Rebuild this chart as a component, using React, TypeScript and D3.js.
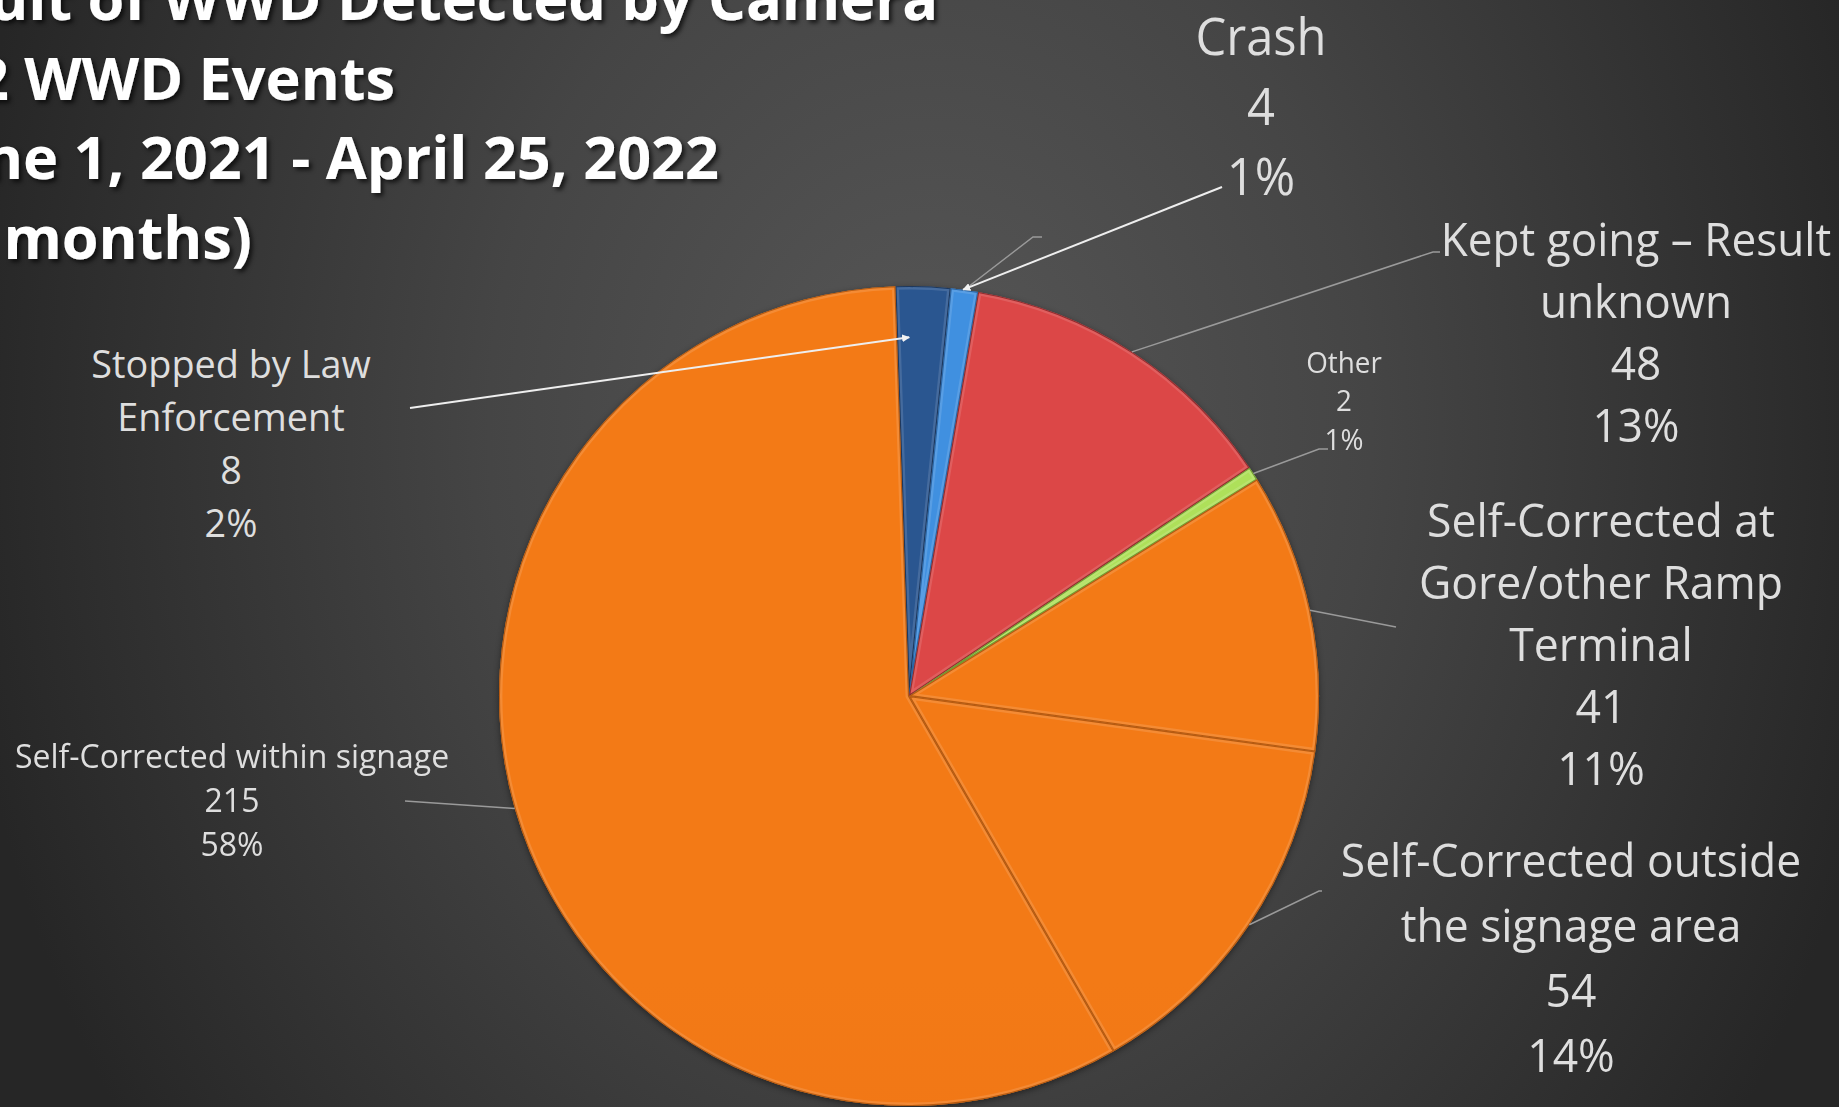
import React from "react";
import * as d3 from "d3";

// chart data
const categories = [
  "Stopped by Law Enforcement",
  "Crash",
  "Kept going – Result unknown",
  "Other",
  "Self-Corrected at Gore/other Ramp Terminal",
  "Self-Corrected outside the signage area",
  "Self-Corrected within signage",
];
const counts = [8, 4, 48, 2, 41, 54, 215];
const percentLabels = ["2%", "1%", "13%", "1%", "11%", "14%", "58%"];
const nameLines = [
  ["Stopped by Law", "Enforcement"],
  ["Crash"],
  ["Kept going – Result", "unknown"],
  ["Other"],
  ["Self-Corrected at", "Gore/other Ramp", "Terminal"],
  ["Self-Corrected outside", "the signage area"],
  ["Self-Corrected within signage"],
];
const titleLines = [
  "Result of WWD Detected by Camera",
  "372 WWD Events",
  "June 1, 2021 - April 25, 2022",
  "(11 months)",
];

// colours: [top, bottom, edge]
const sliceColors = [
  ["#2a5790", "#1f4070", "#142c4e"],
  ["#4190e0", "#2f76c6", "#1f5694"],
  ["#dc4646", "#b23437", "#7e2023"],
  ["#aee05a", "#8cc43c", "#5f8a22"],
  ["#f37a14", "#ee720e", "#a84e06"],
  ["#f37a14", "#ee720e", "#a84e06"],
  ["#f37a14", "#ee720e", "#a84e06"],
];

const W = 1839;
const H = 1107;
const cx = 909;
const cy = 696;
const R = 410;
const startAngle = (-1.9 * Math.PI) / 180;

const FONT = "'Open Sans', 'DejaVu Sans', sans-serif";

// label layout (centre x, first baseline, size, line height, squeeze)
const labelLayout = [
  { x: 231, y: 378, size: 39, lh: 53, sx: 0.97 },
  { x: 1261, y: 55, size: 52, lh: 70, sx: 0.94 },
  { x: 1636, y: 256, size: 45, lh: 62, sx: 0.98 },
  { x: 1344, y: 373, size: 29, lh: 38.5, sx: 0.96 },
  { x: 1601, y: 537, size: 45, lh: 62, sx: 0.99 },
  { x: 1571, y: 877, size: 46, lh: 65, sx: 0.965 },
  { x: 232, y: 768, size: 32.5, lh: 44, sx: 0.985 },
];

// title right ends and baselines
const titleRight = [938, 395, 719, 252];

// leader start points (label side); last point is taken on the slice
const leaders: { pts: number[][]; arrow: boolean; frac: number; rr: number }[][] = [
  [{ pts: [[410, 408]], arrow: true, frac: 0.25, rr: 0.875 }],
  [
    { pts: [[1042, 237], [1033, 237]], arrow: false, frac: 0.5, rr: 1.0 },
    { pts: [[1222, 187]], arrow: true, frac: 0.45, rr: 1.0 },
  ],
  [{ pts: [[1440, 252], [1433, 252]], arrow: false, frac: 0.5, rr: 1.0 }],
  [{ pts: [[1328, 449], [1319, 449]], arrow: false, frac: 0.5, rr: 1.0 }],
  [{ pts: [[1396, 627]], arrow: false, frac: 0.5, rr: 1.0 }],
  [{ pts: [[1322, 891], [1319, 891]], arrow: false, frac: 0.5, rr: 1.0 }],
  [{ pts: [[405, 801]], arrow: false, frac: 0.5, rr: 1.0 }],
];

const polar = (a: number, r: number) => [cx + r * Math.sin(a), cy - r * Math.cos(a)];

export default function App() {
  const arcs = d3
    .pie<number>()
    .sort(null)
    .startAngle(startAngle)
    .endAngle(startAngle + Math.PI * 2)
    .value((d) => d)(counts);

  const arc = d3.arc<d3.PieArcDatum<number>>().innerRadius(0).outerRadius(R);
  const line = d3.line();

  return (
    <div style={{ position: "absolute", left: 0, top: 0 }}>
      <svg width={W} height={H} style={{ display: "block" }}>
        <defs>
          <radialGradient
            id="bg"
            gradientUnits="userSpaceOnUse"
            cx={930}
            cy={430}
            r={980}
            gradientTransform="translate(930,430) scale(1,1.25) translate(-930,-430)"
          >
            <stop offset="0" stopColor="#575757" />
            <stop offset="0.45" stopColor="#454545" />
            <stop offset="1" stopColor="#262626" />
          </radialGradient>
          {sliceColors.map((c, i) => (
            <linearGradient
              key={i}
              id={`g${i}`}
              gradientUnits="userSpaceOnUse"
              x1={0}
              y1={cy - R}
              x2={0}
              y2={cy}
            >
              <stop offset="0" stopColor={c[0]} />
              <stop offset="1" stopColor={c[1]} />
            </linearGradient>
          ))}
          {arcs.map((a, i) => (
            <clipPath key={i} id={`c${i}`}>
              <path d={arc(a) || ""} transform={`translate(${cx},${cy})`} />
            </clipPath>
          ))}
          <filter id="shadow" x="-10%" y="-10%" width="120%" height="130%">
            <feDropShadow dx="3" dy="3" stdDeviation="2" floodColor="#000" floodOpacity="0.65" />
          </filter>
          <filter id="pieShadow" x="-10%" y="-10%" width="120%" height="120%">
            <feDropShadow dx="0" dy="2" stdDeviation="3" floodColor="#000" floodOpacity="0.45" />
          </filter>
          <marker
            id="arrow"
            viewBox="0 0 10 10"
            refX="9"
            refY="5"
            markerWidth="8"
            markerHeight="8"
            markerUnits="userSpaceOnUse"
            orient="auto"
          >
            <path d="M0,0 L10,5 L0,10 z" fill="#f2f2f2" />
          </marker>
        </defs>

        <rect width={W} height={H} fill="url(#bg)" />

        {/* title (cropped at the left edge like the slide) */}
        <g filter="url(#shadow)" fill="#ffffff" fontFamily={FONT} fontWeight={700} fontSize={60}>
          {titleLines.map((t, i) => (
            <text
              key={i}
              transform={`translate(${titleRight[i]},${20 + i * 79.5}) scale(0.99,1)`}
              textAnchor="end"
            >
              {t}
            </text>
          ))}
        </g>

        {/* pie */}
        <g filter="url(#pieShadow)">
          {arcs.map((a, i) => (
            <path
              key={i}
              d={arc(a) || ""}
              transform={`translate(${cx},${cy})`}
              fill={`url(#g${i})`}
            />
          ))}
        </g>
        {arcs.map((a, i) => (
          <g key={i} clipPath={`url(#c${i})`}>
            <path
              d={arc(a) || ""}
              transform={`translate(${cx},${cy})`}
              fill="none"
              stroke="#ffffff"
              strokeOpacity={0.13}
              strokeWidth={7}
            />
            <path
              d={arc(a) || ""}
              transform={`translate(${cx},${cy})`}
              fill="none"
              stroke={sliceColors[i][2]}
              strokeOpacity={0.8}
              strokeWidth={2.2}
            />
          </g>
        ))}

        {/* leader lines */}
        {leaders.map((ls, i) =>
          ls.map((l, j) => {
            const a = arcs[i];
            const ang = a.startAngle + (a.endAngle - a.startAngle) * l.frac;
            const end = polar(ang, R * l.rr);
            const pts = [...l.pts, end] as [number, number][];
            return (
              <path
                key={`${i}-${j}`}
                d={line(pts) || ""}
                fill="none"
                stroke={l.arrow ? "#eeeeee" : "#9a9a9a"}
                strokeWidth={l.arrow ? 2 : 1.5}
                markerEnd={l.arrow ? "url(#arrow)" : undefined}
              />
            );
          })
        )}

        {/* data labels */}
        <g fill="#dedede" fontFamily={FONT}>
          {categories.map((c, i) => {
            const L = labelLayout[i];
            const lines = [...nameLines[i], String(counts[i]), percentLabels[i]];
            return (
              <g key={c} transform={`translate(${L.x},${L.y}) scale(${L.sx},1)`} fontSize={L.size}>
                {lines.map((t, k) => (
                  <text key={k} x={0} y={k * L.lh} textAnchor="middle">
                    {t}
                  </text>
                ))}
              </g>
            );
          })}
        </g>
      </svg>
    </div>
  );
}
